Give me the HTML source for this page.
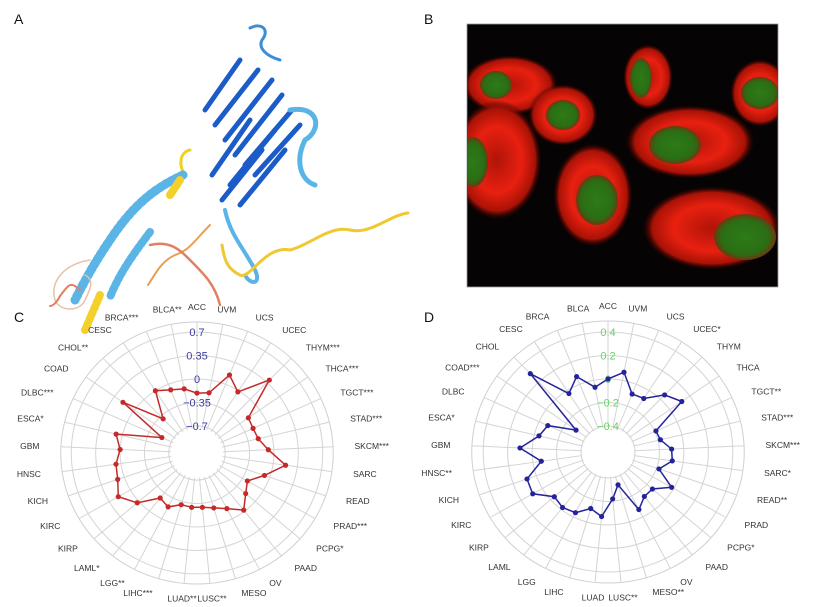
<!DOCTYPE html>
<html><head><meta charset="utf-8">
<style>
html,body{margin:0;padding:0;background:#fff;}
body{width:815px;height:607px;position:relative;overflow:hidden;font-family:"Liberation Sans",sans-serif;}
svg{position:absolute;left:0;top:0;}
</style></head>
<body>
<svg id="fig" width="815" height="607" viewBox="0 0 815 607">
  <defs>
    <radialGradient id="cellg" cx="50%" cy="50%" r="50%">
      <stop offset="0%" stop-color="#b01408"/>
      <stop offset="55%" stop-color="#e82010"/>
      <stop offset="85%" stop-color="#a81206"/>
      <stop offset="100%" stop-color="#200" stop-opacity="0"/>
    </radialGradient>
    <radialGradient id="nucg" cx="50%" cy="50%" r="50%">
      <stop offset="0%" stop-color="#2e7a18"/>
      <stop offset="75%" stop-color="#2a6e14"/>
      <stop offset="100%" stop-color="#6a3a10"/>
    </radialGradient>
  </defs>
  <text x="14" y="24" font-size="14" fill="#111">A</text>
  <text x="424" y="24" font-size="14" fill="#111">B</text>
  <text x="14" y="322" font-size="14" fill="#111">C</text>
  <text x="424" y="322" font-size="14" fill="#111">D</text>

  <g fill="none" stroke-linecap="round">
    <path d="M250 28 C262 22 270 30 262 40 C258 48 266 56 280 60" stroke="#3a8ed8" stroke-width="3"/>
    <g stroke="#1c5cc8" stroke-width="5">
      <path d="M205 110 L240 60"/><path d="M215 125 L258 70"/><path d="M225 140 L272 80"/>
      <path d="M235 155 L282 95"/><path d="M245 165 L292 110"/><path d="M255 175 L300 125"/>
      <path d="M230 185 L275 130"/><path d="M222 200 L262 150"/><path d="M240 205 L285 150"/>
      <path d="M212 175 L250 120"/>
    </g>
    <path d="M290 110 C320 105 322 130 305 140 C295 160 300 180 315 185" stroke="#5ab4e6" stroke-width="5"/>
    <path d="M225 210 C230 235 245 250 255 270 C262 285 250 285 245 275" stroke="#5ab4e6" stroke-width="4"/>
    <path d="M190 150 C180 152 178 165 185 175" stroke="#f0d020" stroke-width="3"/>
    <path d="M183 175 C150 190 130 210 110 240 C95 262 85 280 75 300" stroke="#5ab4e6" stroke-width="9" stroke-dasharray="3 3"/>
    <path d="M180 180 L170 195" stroke="#f3d12a" stroke-width="8"/>
    <path d="M100 295 L85 330" stroke="#f3d12a" stroke-width="8" stroke-dasharray="3 3"/>
    <path d="M150 280 C135 300 120 320 110 345" stroke="#5ab4e6" stroke-width="8" stroke-dasharray="3 3" transform="translate(0,-48)"/>
    <path d="M210 225 C195 240 190 250 175 255 C160 262 155 275 148 285" stroke="#e8a050" stroke-width="2"/>
    <path d="M150 295 C170 290 180 300 190 310 C205 325 215 335 220 355" stroke="#e08060" stroke-width="2.5" transform="translate(0,-50)"/>
    <path d="M222 300 C225 320 230 325 240 330 C250 335 265 300 290 305 C310 300 330 280 350 285 C370 290 390 270 408 268" stroke="#f0c830" stroke-width="3" transform="translate(0,-55)"/>
    <path d="M90 320 C60 325 50 345 55 360 C60 372 80 372 85 360 C90 350 95 340 85 335" stroke="#e9c0a8" stroke-width="1.5" transform="translate(0,-60)"/>
    <path d="M80 300 C70 290 68 296 60 306 C56 314 52 316 50 316" stroke="#e08060" stroke-width="2" transform="translate(0,-10)"/>
  </g>

  <g>
    <rect x="467" y="24" width="311" height="263" fill="#050303" stroke="#999" stroke-width="0.8"/>
    <clipPath id="bclip"><rect x="467" y="24" width="311" height="263"/></clipPath>
    <g clip-path="url(#bclip)">
      <ellipse cx="510" cy="85" rx="48" ry="30" fill="url(#cellg)"/>
      <ellipse cx="563" cy="115" rx="35" ry="31" fill="url(#cellg)"/>
      <ellipse cx="648" cy="77" rx="25" ry="33" fill="url(#cellg)"/>
      <ellipse cx="760" cy="93" rx="30" ry="34" fill="url(#cellg)"/>
      <ellipse cx="690" cy="142" rx="65" ry="37" fill="url(#cellg)"/>
      <ellipse cx="497" cy="160" rx="45" ry="60" fill="url(#cellg)"/>
      <ellipse cx="593" cy="195" rx="40" ry="52" fill="url(#cellg)"/>
      <ellipse cx="712" cy="228" rx="70" ry="42" fill="url(#cellg)"/>
      <ellipse cx="496" cy="85" rx="16" ry="14" fill="url(#nucg)"/>
      <ellipse cx="563" cy="115" rx="17" ry="15" fill="url(#nucg)"/>
      <ellipse cx="641" cy="78" rx="11" ry="20" fill="url(#nucg)"/>
      <ellipse cx="760" cy="93" rx="19" ry="16" fill="url(#nucg)"/>
      <ellipse cx="675" cy="145" rx="26" ry="19" fill="url(#nucg)"/>
      <ellipse cx="473" cy="162" rx="15" ry="25" fill="url(#nucg)"/>
      <ellipse cx="597" cy="200" rx="21" ry="25" fill="url(#nucg)"/>
      <ellipse cx="745" cy="237" rx="31" ry="23" fill="url(#nucg)"/>
    </g>
  </g>
  <g id="chartC"></g>
  <g id="chartD"></g>
</svg>
<script>
const categories = ["ACC","UVM","UCS","UCEC","THYM","THCA","TGCT","STAD","SKCM","SARC","READ","PRAD","PCPG","PAAD","OV","MESO","LUSC","LUAD","LIHC","LGG","LAML","KIRP","KIRC","KICH","HNSC","GBM","ESCA","DLBC","COAD","CHOL","CESC","BRCA","BLCA"];
const starsC = ["","","","","***","***","***","***","***","","","***","*","","","","**","**","***","**","*","","","","","","*","***","","**","","***","**"];
const starsD = ["","","","*","","","**","***","***","*","**","","*","","","**","**","","","","","","","","**","","*","","***","","","",""];
const valuesC = [-0.21,-0.19,0.15,-0.02,0.40,-0.20,-0.22,-0.20,-0.08,0.18,-0.08,-0.27,-0.18,-0.02,-0.17,-0.25,-0.29,-0.29,-0.30,-0.20,-0.25,0.03,0.20,0.10,0.07,0.00,0.09,-0.55,0.20,-0.40,0.00,-0.09,-0.13];
const valuesD = [0.00,0.07,-0.09,-0.08,0.05,0.12,-0.19,-0.18,-0.10,-0.09,-0.18,-0.02,-0.14,-0.14,-0.07,-0.33,-0.22,-0.07,-0.12,-0.04,-0.02,-0.04,0.09,0.08,-0.07,0.10,-0.04,-0.08,-0.30,0.30,-0.03,0.07,-0.06];
const ticksC = [0.7,0.35,0,-0.35,-0.7];
const tickLabelsC = ["0.7","0.35","0","\u22120.35","\u22120.7"];
const ticksD = [0.4,0.2,0,-0.2,-0.4];
const tickLabelsD = ["0.4","0.2","0","\u22120.2","\u22120.4"];

const NS = "http://www.w3.org/2000/svg";
function mk(tag, attrs, parent){
  const e = document.createElementNS(NS, tag);
  for (const k in attrs) e.setAttribute(k, attrs[k]);
  parent.appendChild(e);
  return e;
}
function drawRadar(g, cx, cy, r0, slope, values, ticks, tickLabels, stars, lineColor, tickColor, key){
  const n = categories.length;
  const sx = 1.04;
  const rScale = v => r0 + v * slope;
  const ang = i => i * 2 * Math.PI / n;
  const px = (i, r) => cx + r * Math.sin(ang(i)) * sx;
  const py = (i, r) => cy - r * Math.cos(ang(i));
  const outer = 131, inner = 25;
  const grid = mk('g', {}, g);
  
  
  mk('ellipse', {cx:cx, cy:cy, rx:outer*sx, ry:outer, fill:'none', stroke:'#cfcfcf', 'stroke-width':1}, grid);
  ticks.forEach(t => {
    const r = rScale(t);
    mk('ellipse', {cx:cx, cy:cy, rx:r*sx, ry:r, fill:'none', stroke:'#d4d4d4', 'stroke-width':1}, grid);
  });
  for (let i = 0; i < n; i++) {
    mk('line', {x1:px(i,inner), y1:py(i,inner), x2:px(i,outer), y2:py(i,outer), stroke:'#d4d4d4', 'stroke-width':1}, grid);
  }
  ticks.forEach((t, k) => {
    const tx = mk('text', {x:cx, y:cy - rScale(t) + 4, 'text-anchor':'middle', 'font-size':11, fill:tickColor}, g);
    tx.textContent = tickLabels[k];
    
    
  });
  const pts = values.map((v, i) => px(i, rScale(v)).toFixed(1) + ',' + py(i, rScale(v)).toFixed(1));
  const poly = mk('polygon', {points:pts.join(' '), fill:'none', stroke:lineColor, 'stroke-width':1.5}, g);
  
  
  values.forEach((v, i) => {
    const c = mk('circle', {cx:px(i, rScale(v)), cy:py(i, rScale(v)), r:2.6, fill:lineColor}, g);
    
    
  });
  categories.forEach((cat, i) => {
    const a = ang(i);
    const s = Math.sin(a);
    const lr = 146;
    const x = cx + lr * s * 1.08;
    const y = cy - lr * Math.cos(a) + 3;
    const anchor = Math.abs(s) < 0.2 ? 'middle' : (s > 0 ? 'start' : 'end');
    const t = mk('text', {x:x, y:y, 'text-anchor':anchor, 'font-size':8.5, fill:'#333'}, g);
    t.textContent = cat + stars[i];
    
    
  });
}
drawRadar(document.getElementById('chartC'), 197, 453, 74, 67, valuesC, ticksC, tickLabelsC, starsC, '#c42a2a', '#3a3aa0', 'chart-c');
drawRadar(document.getElementById('chartD'), 608, 452, 73, 117.5, valuesD, ticksD, tickLabelsD, starsD, '#24249a', '#66d066', 'chart-d');
</script>
</body></html>
